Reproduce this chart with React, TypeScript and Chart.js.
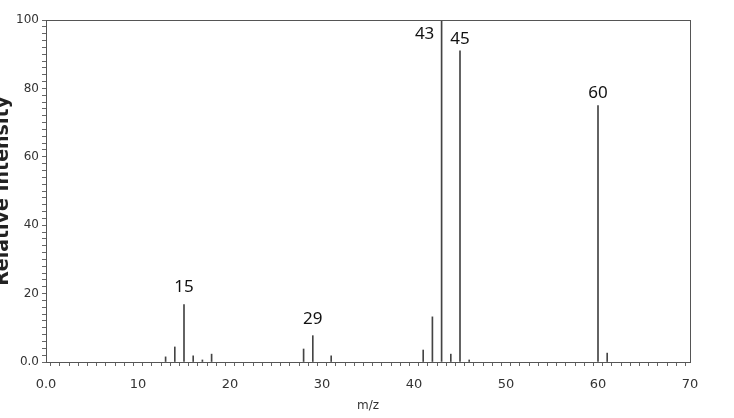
import React, { useEffect, useRef } from "react";
import { Chart, registerables } from "chart.js";

Chart.register(...registerables);

const mzValues = [13, 14, 15, 16, 17, 18, 28, 29, 31, 41, 42, 43, 44, 45, 46, 60, 61];
const intensities = [1.5, 4.4, 16.8, 1.8, 0.6, 2.3, 3.8, 7.7, 1.8, 3.5, 13.2, 100, 2.3, 91, 0.6, 75, 2.6];
const labeledPeaks = [15, 29, 43, 45, 60];
const xTickLabels = ["0.0", "10", "20", "30", "40", "50", "60", "70"];
const yTickLabels = ["0.0", "20", "40", "60", "80", "100"];
const xTitle = "m/z";
const yTitle = "Relative Intensity";

const peakLabelPlugin = {
  id: "peakLabels",
  afterDatasetsDraw(chart: any) {
    const { ctx, scales } = chart;
    const xs = scales.x;
    const ys = scales.y;
    ctx.save();
    ctx.font = "17px 'Noto Sans', 'Open Sans', sans-serif";
    ctx.fillStyle = "#111";
    ctx.textAlign = "center";
    ctx.textBaseline = "middle";
    labeledPeaks.forEach((mz) => {
      const i = mzValues.indexOf(mz);
      const v = intensities[i];
      const px = xs.getPixelForValue(mz);
      const py = ys.getPixelForValue(v);
      if (v >= 99) {
        ctx.fillText(String(mz), px - 17, py + 14);
      } else {
        ctx.fillText(String(mz), px, py - (v < 30 ? 17 : 12));
      }
    });
    ctx.restore();
  },
};

const framePlugin = {
  id: "frame",
  afterDraw(chart: any) {
    const { ctx, chartArea } = chart;
    ctx.save();
    ctx.strokeStyle = "#555";
    ctx.lineWidth = 1;
    ctx.strokeRect(chartArea.left + 0.5, chartArea.top + 0.5, chartArea.right - chartArea.left, chartArea.bottom - chartArea.top);
    // rotated y-axis title, partly off the canvas edge
    ctx.translate(8, (chartArea.top + chartArea.bottom) / 2);
    ctx.rotate(-Math.PI / 2);
    ctx.font = "bold 19px 'DejaVu Sans', sans-serif";
    ctx.fillStyle = "#222";
    ctx.textAlign = "center";
    ctx.textBaseline = "alphabetic";
    ctx.fillText(yTitle, 0, 0);
    ctx.restore();
  },
};

export default function App() {
  const ref = useRef<HTMLCanvasElement>(null);
  useEffect(() => {
    if (!ref.current) return;
    const chart = new Chart(ref.current, {
      type: "bar",
      data: {
        datasets: [
          {
            data: mzValues.map((x, i) => ({ x, y: intensities[i] })),
            backgroundColor: "#444",
            borderWidth: 0,
            barThickness: 1,
          } as any,
        ],
      },
      options: {
        animation: false,
        responsive: true,
        maintainAspectRatio: false,
        layout: { padding: { left: 0, right: 44, top: 20, bottom: 0 } },
        plugins: { legend: { display: false }, tooltip: { enabled: false } },
        scales: {
          x: {
            type: "linear",
            min: 0,
            max: 70,
            offset: false,
            grid: { display: true, drawOnChartArea: false, tickLength: 4, color: "#666" },
            border: { color: "#555" },
            ticks: {
              stepSize: 1,
              autoSkip: false,
              maxRotation: 0,
              padding: 11,
              color: "#333",
              font: { family: "'DejaVu Sans', Verdana, sans-serif", size: 13 },
              callback: (v: any) => (Number(v) % 10 === 0 ? xTickLabels[Number(v) / 10] : ""),
            },
            title: {
              display: true,
              text: xTitle,
              color: "#333",
              font: { family: "'DejaVu Sans', Verdana, sans-serif", size: 12 },
              padding: { top: 2, bottom: 5 },
            },
            afterFit: (s: any) => {
              s.height = 56;
            },
          },
          y: {
            min: 0,
            max: 100,
            grid: { display: true, drawOnChartArea: false, tickLength: 4, color: "#666" },
            border: { color: "#555" },
            ticks: {
              stepSize: 2,
              autoSkip: false,
              padding: 3,
              color: "#333",
              font: { family: "'DejaVu Sans', Verdana, sans-serif", size: 12 },
              callback: (v: any) => (Number(v) % 20 === 0 ? yTickLabels[Number(v) / 20] : ""),
            },
            afterFit: (s: any) => {
              s.width = 46;
            },
          },
        },
      },
      plugins: [peakLabelPlugin, framePlugin],
    });
    return () => chart.destroy();
  }, []);
  return (
    <div style={{ position: "fixed", left: 0, top: 0, width: 734, height: 418, background: "#fff" }}>
      <canvas ref={ref} />
    </div>
  );
}
